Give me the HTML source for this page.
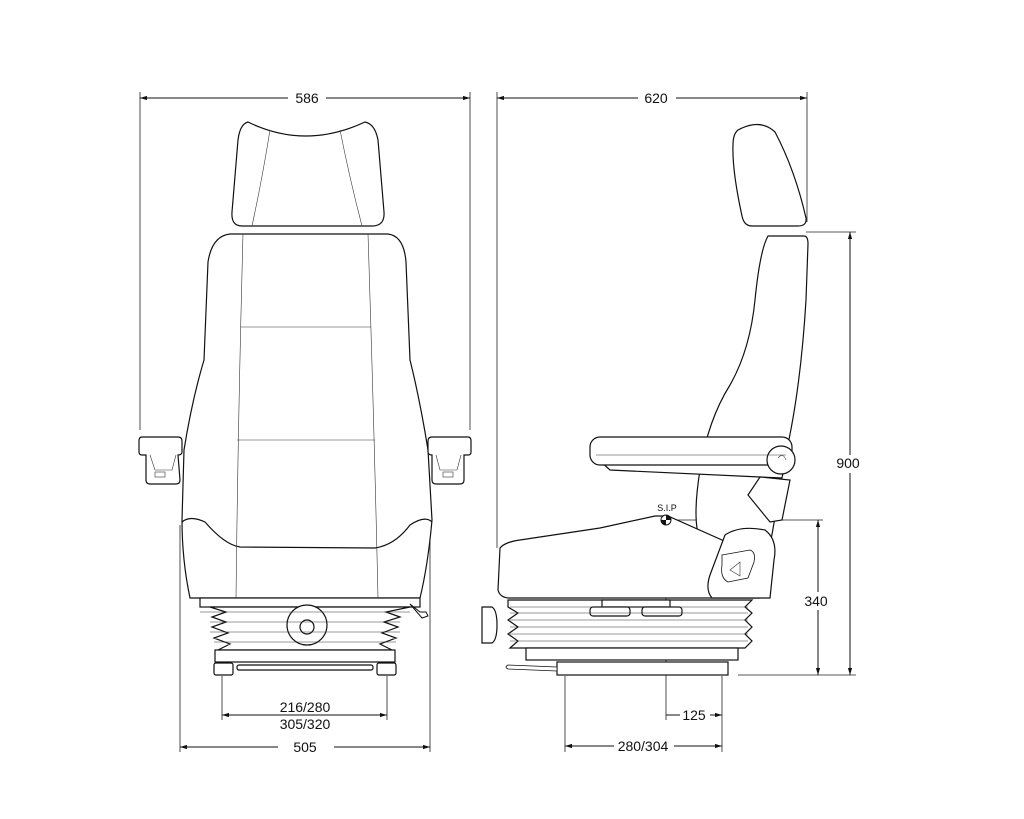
<!DOCTYPE html>
<html><head><meta charset="utf-8"><style>
html,body{margin:0;padding:0;background:#fff;}
svg{display:block;}
text{font-family:"Liberation Sans",sans-serif;font-size:14px;fill:#111;text-anchor:middle;}
</style></head><body>
<svg width="1024" height="819" viewBox="0 0 1024 819" xmlns="http://www.w3.org/2000/svg">
<defs>
<marker id="a" viewBox="0 0 10 10" refX="10" refY="5" markerWidth="7" markerHeight="7" orient="auto-start-reverse"><path d="M0,2 L10,5 L0,8 z" fill="#111"/></marker>
</defs>
<g stroke="#222" stroke-width="0.8" fill="none">
<!-- extension lines -->
<line x1="140" y1="92" x2="140" y2="430"/><line x1="470" y1="92" x2="470" y2="430"/>
<line x1="497" y1="92" x2="497" y2="548"/><line x1="807" y1="92" x2="807" y2="222"/>
<line x1="180" y1="525" x2="180" y2="752"/><line x1="430" y1="525" x2="430" y2="752"/>
<line x1="222" y1="676" x2="222" y2="720"/><line x1="387" y1="676" x2="387" y2="720"/>
<line x1="565" y1="676" x2="565" y2="752"/><line x1="722" y1="676" x2="722" y2="752"/>
<line x1="666" y1="520" x2="666" y2="720"/>
<line x1="806" y1="232" x2="856" y2="232"/>
<line x1="672" y1="520" x2="823" y2="520"/>
<line x1="738" y1="675" x2="856" y2="675"/>
</g>
<g stroke="#111" stroke-width="1" fill="none">
<line x1="140" y1="98" x2="470" y2="98" marker-start="url(#a)" marker-end="url(#a)"/>
<line x1="497" y1="98" x2="807" y2="98" marker-start="url(#a)" marker-end="url(#a)"/>
<line x1="222" y1="715" x2="387" y2="715" marker-start="url(#a)" marker-end="url(#a)"/>
<line x1="180" y1="747" x2="430" y2="747" marker-start="url(#a)" marker-end="url(#a)"/>
<line x1="666" y1="715" x2="722" y2="715" marker-end="url(#a)"/>
<line x1="565" y1="746" x2="722" y2="746" marker-start="url(#a)" marker-end="url(#a)"/>
<line x1="818" y1="520" x2="818" y2="675" marker-start="url(#a)" marker-end="url(#a)"/>
<line x1="850" y1="232" x2="850" y2="675" marker-start="url(#a)" marker-end="url(#a)"/>
</g>
<g fill="#fff"><rect x="288" y="90" width="38" height="16"/><rect x="638" y="90" width="38" height="16"/><rect x="278" y="739" width="56" height="16"/><rect x="614" y="738" width="60" height="16"/><rect x="680" y="707" width="30" height="16"/><rect x="800" y="592" width="32" height="18"/><rect x="832" y="455" width="34" height="18"/></g>
<text x="307" y="103">586</text><text x="656" y="103">620</text>
<text x="305" y="712">216/280</text><text x="305" y="729">305/320</text>
<text x="305" y="752">505</text><text x="694" y="720">125</text><text x="643" y="751">280/304</text>
<text x="816" y="606">340</text><text x="848" y="468">900</text>
<text x="667" y="511" style="font-size:9px">S.I.P</text>

<!-- FRONT VIEW -->
<g stroke="#111" stroke-width="1.2" fill="#fff">
<path d="M248,122 Q305,150 365,122 Q375,124 378,140 L384,212 Q385,226 372,226 L242,226 Q231,226 232,212 L238,140 Q240,124 248,122 Z"/>
<path d="M230,234 L388,234 Q404,236 406,262 L410,360 Q420,400 428,450 L432,520 Q428,565 420,598 L190,598 Q182,560 182,520 L184,450 Q192,400 204,360 L208,262 Q212,236 230,234 Z"/>
<path d="M182,522 Q190,515 205,522 Q225,545 240,547 L375,548 Q395,545 410,525 Q425,515 432,522"/>
<rect x="200" y="598" width="220" height="9"/>
<path d="M210,607 L226,612 L212,617 L226,622 L212,627 L228,633 L214,638 L230,644 L218,650 L392,650 L380,644 L396,638 L382,633 L398,627 L384,622 L400,617 L386,612 L410,607 Z"/>
<rect x="215" y="650" width="180" height="12"/>
<rect x="214" y="663" width="19" height="12" rx="2"/><rect x="377" y="663" width="19" height="12" rx="2"/>
<rect x="237" y="665" width="136" height="5" rx="2"/>
<circle cx="307" cy="625" r="20"/><circle cx="307" cy="627" r="7"/>
<path d="M142,437 L178,437 Q182,437 182,441 L182,452 Q182,455 178,455 L180,480 Q180,484 176,484 L150,484 Q146,484 146,480 L146,455 L142,455 Q139,455 139,452 L139,441 Q139,437 142,437 Z"/>
<path d="M432,437 L468,437 Q471,437 471,441 L471,452 Q471,455 468,455 L464,455 L464,480 Q464,484 460,484 L436,484 Q432,484 432,480 L432,455 Q428,455 428,452 L428,441 Q428,437 432,437 Z"/>
<path d="M410,604 L420,612 L426,612 L428,616 L422,618 Z" stroke-width="1"/>
</g>
<g stroke="#333" stroke-width="0.6" fill="none">
<path d="M270,130 Q262,180 252,226"/><path d="M340,130 Q350,180 362,226"/>
<path d="M243,234 Q238,420 236,598"/><path d="M368,234 Q374,420 378,598"/>
<line x1="241" y1="327" x2="371" y2="327"/><line x1="237" y1="440" x2="375" y2="440"/>
<line x1="200" y1="612" x2="410" y2="612"/><line x1="210" y1="622" x2="400" y2="622"/><line x1="210" y1="632" x2="400" y2="632"/><line x1="214" y1="642" x2="396" y2="642"/>
<path d="M150,455 L155,470 L172,470 L176,455"/><path d="M436,455 L440,470 L457,470 L461,455"/>
<rect x="155" y="472" width="10" height="5"/><rect x="443" y="472" width="10" height="5"/>
</g>

<!-- SIDE VIEW -->
<g stroke="#111" stroke-width="1.2" fill="#fff">
<path d="M738,130 Q760,118 775,132 Q795,170 806,218 Q807,226 798,226 L752,226 Q744,226 742,216 Q732,170 733,145 Q733,134 738,130 Z"/>
<path d="M768,236 L804,236 Q808,236 808,244 L806,300 Q800,400 782,470 Q775,520 770,545 Q762,560 725,560 L700,540 Q692,520 700,470 Q708,420 730,385 Q750,350 755,300 Q760,250 768,236 Z"/>
<path d="M500,548 Q505,542 520,540 L600,528 L655,516 L668,516 L740,548 Q770,540 772,560 L768,590 Q766,598 760,598 L510,598 Q500,598 498,590 Z"/>
<path d="M725,535 Q740,525 765,530 Q778,540 774,560 L770,598 L712,598 Q705,590 710,575 Z"/>
<path d="M722,555 L750,550 Q756,552 754,562 L748,578 L728,582 Q720,578 722,565 Z" stroke-width="0.8"/>
<path d="M600,461 L785,463 L782,478 L760,477 L610,470 Z"/>
<path d="M760,477 L790,480 L782,520 L770,522 L748,495 Z"/>
<rect x="590" y="437" width="202" height="28" rx="10"/>
<circle cx="781" cy="460" r="14"/>
<path d="M508,600 L752,600 L745,607 L752,613 L745,620 L752,627 L745,634 L752,641 L745,648 L510,648 L518,641 L508,634 L518,627 L508,620 L518,613 L508,607 Z"/>
<rect x="526" y="648" width="212" height="12"/>
<rect x="557" y="662" width="171" height="13"/>
<path d="M508,665 L557,667 L557,671 L508,669 Q504,667 508,665 Z" stroke-width="0.8"/>
<path d="M482,607 L492,607 Q497,610 497,625 Q497,640 492,643 L482,643 Z"/>
<rect x="602" y="600" width="68" height="7"/>
<rect x="590" y="607" width="40" height="9" rx="3"/><rect x="642" y="607" width="40" height="9" rx="3"/>
</g>
<g stroke="#333" stroke-width="0.6" fill="none">
<line x1="510" y1="607" x2="748" y2="607"/><line x1="510" y1="613" x2="748" y2="613"/><line x1="510" y1="620" x2="748" y2="620"/><line x1="510" y1="627" x2="748" y2="627"/><line x1="510" y1="634" x2="748" y2="634"/><line x1="510" y1="641" x2="748" y2="641"/>
<line x1="596" y1="455" x2="786" y2="455"/>
<path d="M778,458 Q783,452 786,460"/>
<path d="M740,562 L730,570 L740,576 Z"/>
</g>
<circle cx="666" cy="520" r="5" fill="#fff" stroke="#111" stroke-width="1"/>
<path d="M666,515 A5,5 0 0 1 671,520 L666,520 Z M666,525 A5,5 0 0 1 661,520 L666,520 Z" fill="#111"/>
</svg>
</body></html>
